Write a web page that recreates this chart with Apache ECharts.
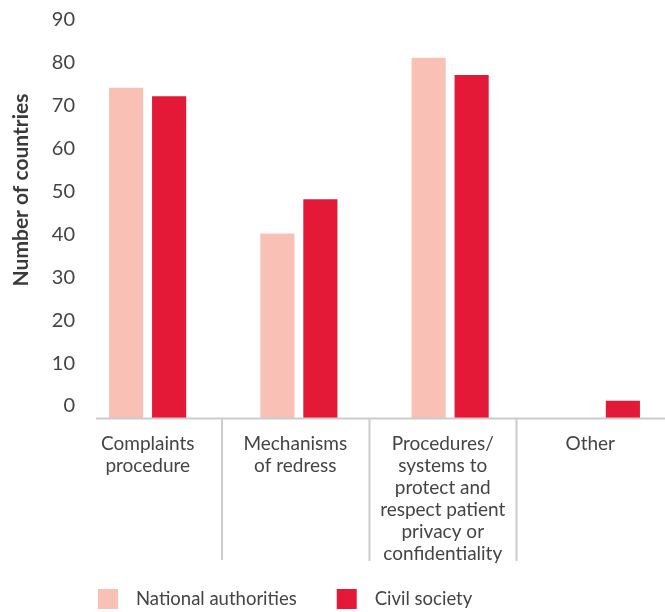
<!DOCTYPE html>
<html>
<head>
<meta charset="utf-8">
<script src="https://cdn.jsdelivr.net/npm/echarts@6/dist/echarts.min.js"></script>
<style>html,body{margin:0;padding:0;background:#fff}#c{width:665px;height:612px}</style>
</head>
<body>
<div id="c"></div>
<script>
var categories = ['Complaints\nprocedure', 'Mechanisms\nof redress', 'Procedures/\nsystems to\nprotect and\nrespect patient\nprivacy or\nconfidentiality', 'Other'];
var nationalAuthorities = [77, 43, 84, 0];
var civilSociety = [75, 51, 80, 4];
var yTicks = [0, 10, 20, 30, 40, 50, 60, 70, 80, 90];

var FONT = 'Lato';
var chart = echarts.init(document.getElementById('c'));
var sepStyle = { stroke: '#cccccc', lineWidth: 2 };
chart.setOption({
  animation: false,
  textStyle: { fontFamily: FONT },
  legend: {
    left: 98, top: 589, padding: 0,
    itemWidth: 20, itemHeight: 20, itemGap: 40,
    icon: 'rect',
    textStyle: { fontSize: 18.5, color: '#444', fontFamily: FONT, padding: [0, 0, 0, 13] },
    data: ['National authorities', 'Civil society']
  },
  grid: [
    { left: 72, top: 32, width: 605, height: 386, outerBoundsMode: 'none', containLabel: false },
    { left: 74, top: 32, width: 590, height: 386, outerBoundsMode: 'none', containLabel: false }
  ],
  xAxis: [
    { type: 'category', gridIndex: 0, data: categories, axisLine: { show: false }, axisTick: { show: false }, axisLabel: { show: false } },
    { type: 'category', gridIndex: 1, data: categories,
      axisLine: { show: false }, axisTick: { show: false },
      axisLabel: { interval: 0, margin: 15, fontSize: 19, lineHeight: 22, color: '#444', fontFamily: FONT, verticalAlign: 'top' } }
  ],
  yAxis: [
    { type: 'value', gridIndex: 0, min: 0, max: 90, interval: 10,
      name: 'Number of countries', nameLocation: 'middle', nameGap: 40,
      nameTextStyle: { fontSize: 21, fontWeight: 'bold', color: '#3a3a3a', fontFamily: FONT, padding: [0, 0, 0, 70] },
      axisLine: { show: false }, axisTick: { show: false }, splitLine: { show: false },
      axisLabel: { margin: -3, fontSize: 20, color: '#444', fontFamily: FONT, verticalAlign: 'bottom', padding: [0, 0, 2, 0] } },
    { type: 'value', gridIndex: 1, min: 0, max: 90, show: false }
  ],
  graphic: [
    { type: 'line', shape: { x1: 96, y1: 418.5, x2: 665, y2: 418.5 }, style: sepStyle, z: 10 },
    { type: 'line', shape: { x1: 222, y1: 419, x2: 222, y2: 560 }, style: sepStyle },
    { type: 'line', shape: { x1: 369.5, y1: 419, x2: 369.5, y2: 561 }, style: sepStyle },
    { type: 'line', shape: { x1: 516.5, y1: 419, x2: 516.5, y2: 561 }, style: sepStyle }
  ],
  series: [
    { name: 'National authorities', type: 'bar', xAxisIndex: 0, yAxisIndex: 0, data: nationalAuthorities,
      itemStyle: { color: '#F9C1B5' }, barGap: '26%', barCategoryGap: '49%' },
    { name: 'Civil society', type: 'bar', xAxisIndex: 0, yAxisIndex: 0, data: civilSociety,
      itemStyle: { color: '#E31937' }, barGap: '26%', barCategoryGap: '49%' }
  ]
});
</script>
</body>
</html>
